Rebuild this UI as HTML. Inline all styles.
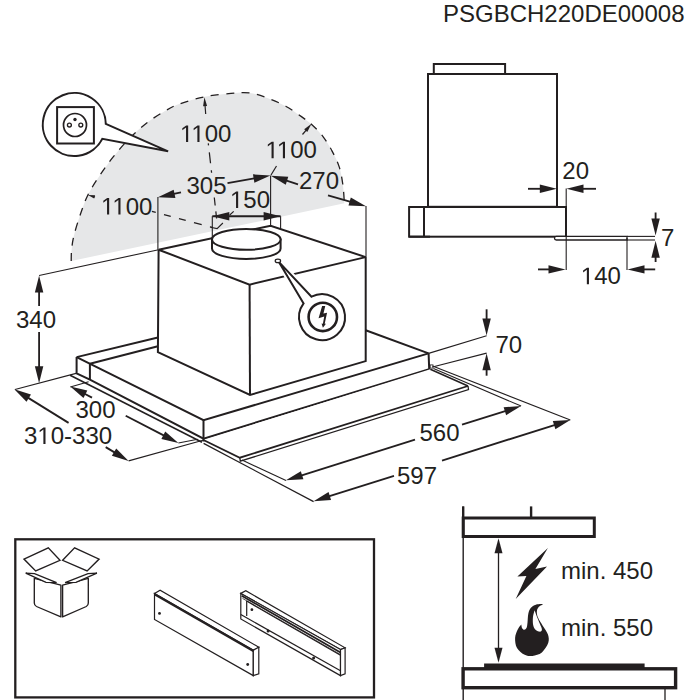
<!DOCTYPE html>
<html><head><meta charset="utf-8"><style>
html,body{margin:0;padding:0;background:#fff;}
svg{display:block;}
text{font-family:"Liberation Sans",sans-serif;fill:#231f20;}
</style></head><body>
<svg width="700" height="700" viewBox="0 0 700 700">
<path d="M 71.20 261.00 C 71.27 259.17 71.15 254.22 71.60 250.00 C 72.05 245.78 72.43 241.65 73.90 235.70 C 75.37 229.75 78.07 221.08 80.40 214.30 C 82.73 207.52 84.70 201.43 87.90 195.00 C 91.10 188.57 95.32 182.13 99.60 175.70 C 103.88 169.27 108.42 162.83 113.60 156.40 C 118.78 149.97 124.98 142.82 130.70 137.10 C 136.42 131.38 142.18 126.45 147.90 122.10 C 153.62 117.75 159.88 113.97 165.00 111.00 C 170.12 108.03 172.02 106.67 178.60 104.30 C 185.18 101.93 195.77 98.62 204.50 96.80 C 213.23 94.98 223.42 94.03 231.00 93.40 C 238.58 92.77 243.85 92.20 250.00 93.00 C 256.15 93.80 261.95 96.00 267.90 98.20 C 273.85 100.40 280.05 103.08 285.70 106.20 C 291.35 109.32 297.33 113.73 301.80 116.90 C 306.27 120.07 308.93 121.88 312.50 125.20 C 316.07 128.52 319.93 132.48 323.20 136.80 C 326.47 141.12 329.42 146.05 332.10 151.10 C 334.78 156.15 337.50 161.45 339.30 167.10 C 341.10 172.75 342.05 178.97 342.90 185.00 C 343.75 191.03 344.15 200.25 344.40 203.30  L 71.2 261.0 Z" fill="#e6e7e8" stroke="none"/>
<path d="M 71.20 261.00 C 71.27 259.17 71.15 254.22 71.60 250.00 C 72.05 245.78 72.43 241.65 73.90 235.70 C 75.37 229.75 78.07 221.08 80.40 214.30 C 82.73 207.52 84.70 201.43 87.90 195.00 C 91.10 188.57 95.32 182.13 99.60 175.70 C 103.88 169.27 108.42 162.83 113.60 156.40 C 118.78 149.97 124.98 142.82 130.70 137.10 C 136.42 131.38 142.18 126.45 147.90 122.10 C 153.62 117.75 159.88 113.97 165.00 111.00 C 170.12 108.03 172.02 106.67 178.60 104.30 C 185.18 101.93 195.77 98.62 204.50 96.80 C 213.23 94.98 223.42 94.03 231.00 93.40 C 238.58 92.77 243.85 92.20 250.00 93.00 C 256.15 93.80 261.95 96.00 267.90 98.20 C 273.85 100.40 280.05 103.08 285.70 106.20 C 291.35 109.32 297.33 113.73 301.80 116.90 C 306.27 120.07 308.93 121.88 312.50 125.20 C 316.07 128.52 319.93 132.48 323.20 136.80 C 326.47 141.12 329.42 146.05 332.10 151.10 C 334.78 156.15 337.50 161.45 339.30 167.10 C 341.10 172.75 342.05 178.97 342.90 185.00 C 343.75 191.03 344.15 200.25 344.40 203.30 " fill="none" stroke="#231f20" stroke-width="1.3" stroke-dasharray="8 7.5"/>
<text x="443.00 459.01 475.02 493.68 509.69 527.02 544.36 557.70 571.05 584.40 601.73 617.74 631.09 644.43 657.78 671.13" y="22" font-size="24">PSGBCH220DE00008</text>
<line x1="208.30" y1="143.40" x2="211.90" y2="175.50" stroke="#231f20" stroke-width="1.25" stroke-dasharray="2 7 11 7 2.5 40"/>
<line x1="214.30" y1="197.50" x2="216.60" y2="218.50" stroke="#231f20" stroke-width="1.25" stroke-dasharray="8 6"/>
<line x1="205.70" y1="114.00" x2="204.94" y2="104.18" stroke="#231f20" stroke-width="1.2" />
<polygon points="204.40,97.20 207.09,106.02 203.10,106.33" fill="#231f20" stroke="none" stroke-width="0" />
<polygon points="186.04,142.00 186.04,127.50 182.31,130.16 182.31,128.17 186.21,125.49 188.16,125.49 188.16,142.00" fill="#231f20"/>
<polygon points="197.38,142.00 197.38,127.50 193.66,130.16 193.66,128.17 197.56,125.49 199.50,125.49 199.50,142.00" fill="#231f20"/>
<text x="204.70 218.04" y="142" font-size="24">00</text>
<line x1="151.90" y1="211.40" x2="212.40" y2="227.40" stroke="#231f20" stroke-width="1.25" stroke-dasharray="4 8.5 7 8.5 7 8.5 8 8.5"/>
<line x1="95.00" y1="197.00" x2="92.71" y2="196.36" stroke="#231f20" stroke-width="1.2" />
<polygon points="87.90,195.00 95.11,195.21 94.16,198.58" fill="#231f20" stroke="none" stroke-width="0" />
<polygon points="107.04,214.50 107.04,200.00 103.31,202.66 103.31,200.67 107.21,197.99 109.16,197.99 109.16,214.50" fill="#231f20"/>
<polygon points="118.38,214.50 118.38,200.00 114.66,202.66 114.66,200.67 118.56,197.99 120.50,197.99 120.50,214.50" fill="#231f20"/>
<text x="125.70 139.04" y="214.5" font-size="24">00</text>
<line x1="271.00" y1="175.00" x2="276.50" y2="166.00" stroke="#231f20" stroke-width="1.2" />
<line x1="302.50" y1="134.50" x2="307.02" y2="129.08" stroke="#231f20" stroke-width="1.2" />
<polygon points="311.50,123.70 307.27,131.89 304.20,129.33" fill="#231f20" stroke="none" stroke-width="0" />
<polygon points="271.54,158.30 271.54,143.80 267.81,146.46 267.81,144.47 271.71,141.79 273.66,141.79 273.66,158.30" fill="#231f20"/>
<polygon points="282.88,158.30 282.88,143.80 279.16,146.46 279.16,144.47 283.06,141.79 285.00,141.79 285.00,158.30" fill="#231f20"/>
<text x="290.20 303.54" y="158.3" font-size="24">00</text>
<line x1="157.90" y1="197.00" x2="157.90" y2="249.70" stroke="#231f20" stroke-width="1.1" />
<line x1="270.60" y1="175.50" x2="270.60" y2="225.70" stroke="#231f20" stroke-width="1.1" />
<line x1="366.00" y1="206.00" x2="366.00" y2="257.10" stroke="#231f20" stroke-width="1.1" />
<line x1="181.00" y1="192.40" x2="172.57" y2="194.19" stroke="#231f20" stroke-width="1.85" />
<polygon points="157.90,197.30 173.66,189.66 175.40,197.88" fill="#231f20" stroke="none" stroke-width="0" />
<line x1="227.50" y1="183.20" x2="255.64" y2="178.15" stroke="#231f20" stroke-width="1.85" />
<polygon points="270.40,175.50 254.41,182.64 252.93,174.37" fill="#231f20" stroke="none" stroke-width="0" />
<text x="186.50 199.85 213.20" y="194" font-size="24">305</text>
<line x1="298.00" y1="184.30" x2="285.10" y2="180.22" stroke="#231f20" stroke-width="1.85" />
<polygon points="270.80,175.70 288.28,176.82 285.74,184.83" fill="#231f20" stroke="none" stroke-width="0" />
<line x1="328.00" y1="195.30" x2="351.58" y2="202.06" stroke="#231f20" stroke-width="1.85" />
<polygon points="366.00,206.20 348.50,205.55 350.82,197.48" fill="#231f20" stroke="none" stroke-width="0" />
<text x="299.00 312.35 325.70" y="188.5" font-size="24">270</text>
<line x1="212.30" y1="216.20" x2="280.60" y2="216.20" stroke="#231f20" stroke-width="1.85" />
<polygon points="212.30,216.20 229.30,212.00 229.30,220.40" fill="#231f20" stroke="none" stroke-width="0" />
<polygon points="280.60,216.20 263.60,220.40 263.60,212.00" fill="#231f20" stroke="none" stroke-width="0" />
<line x1="212.30" y1="216.20" x2="212.30" y2="240.00" stroke="#231f20" stroke-width="1.1" />
<line x1="280.60" y1="216.20" x2="280.60" y2="248.00" stroke="#231f20" stroke-width="1.1" />
<polygon points="236.04,208.00 236.04,193.50 232.31,196.16 232.31,194.17 236.21,191.49 238.16,191.49 238.16,208.00" fill="#231f20"/>
<text x="243.35 256.70" y="208" font-size="24">50</text>
<path d="M 105.80 123.95 L 168.1 151.3 L 102.37 138.80 A 31.5 31.5 0 1 1 105.80 123.95 Z" fill="#fff" stroke="#231f20" stroke-width="2" stroke-linejoin="miter"/>
<rect x="57.1" y="107.1" width="36.8" height="36.4" fill="none" stroke="#231f20" stroke-width="2"/>
<circle cx="75" cy="125" r="11.5" fill="none" stroke="#231f20" stroke-width="1.7"/>
<circle cx="75" cy="119.5" r="1.7" fill="#231f20"/>
<circle cx="69.4" cy="125" r="1.95" fill="none" stroke="#231f20" stroke-width="1.35"/>
<circle cx="80.8" cy="125" r="1.95" fill="none" stroke="#231f20" stroke-width="1.35"/>
<line x1="39.10" y1="275.50" x2="158.60" y2="249.70" stroke="#231f20" stroke-width="1.1" />
<line x1="15.00" y1="389.50" x2="77.00" y2="373.10" stroke="#231f20" stroke-width="1.1" />
<line x1="39.10" y1="280.00" x2="39.10" y2="378.00" stroke="#231f20" stroke-width="1.85" />
<polygon points="39.10,275.60 43.30,292.60 34.90,292.60" fill="#231f20" stroke="none" stroke-width="0" />
<polygon points="39.10,383.20 34.90,366.20 43.30,366.20" fill="#231f20" stroke="none" stroke-width="0" />
<rect x="16" y="306" width="40" height="26" fill="#fff"/>
<text x="16.00 29.35 42.70" y="328" font-size="24">340</text>
<polygon points="76.60,357.10 157.90,337.50 157.90,352.10 250.00,395.00 365.70,361.10 365.70,330.30 428.60,353.40 429.20,369.20 203.50,438.60 89.90,379.60 76.60,373.40" fill="#fff" stroke="none" stroke-width="0" />
<line x1="76.60" y1="357.10" x2="157.90" y2="337.50" stroke="#231f20" stroke-width="2.0" />
<line x1="89.90" y1="363.80" x2="157.90" y2="346.30" stroke="#231f20" stroke-width="2.0" />
<polyline points="76.60,357.10 203.50,420.20 428.60,353.40" fill="none" stroke="#231f20" stroke-width="2.0" stroke-linejoin="miter" />
<line x1="365.70" y1="330.30" x2="428.60" y2="353.40" stroke="#231f20" stroke-width="2.0" />
<polyline points="76.60,357.10 76.60,373.40 89.90,379.60 203.50,438.60 429.20,369.20 428.60,353.40" fill="none" stroke="#231f20" stroke-width="2.0" stroke-linejoin="miter" />
<line x1="89.90" y1="363.80" x2="89.90" y2="379.60" stroke="#231f20" stroke-width="2.0" />
<line x1="203.50" y1="420.20" x2="203.50" y2="438.60" stroke="#231f20" stroke-width="2.0" />
<line x1="70.10" y1="375.20" x2="202.00" y2="442.20" stroke="#231f20" stroke-width="1.6" />
<polygon points="204.00,440.00 240.00,458.00 468.00,386.00 430.30,369.20" fill="#fff" stroke="none" stroke-width="0" />
<polyline points="204.00,440.30 239.80,457.70 468.00,386.00" fill="none" stroke="#231f20" stroke-width="1.8" stroke-linejoin="miter" />
<polyline points="239.80,457.70 240.30,461.20 468.50,389.50 468.00,386.00" fill="none" stroke="#231f20" stroke-width="1.3" stroke-linejoin="miter" />
<line x1="203.50" y1="438.00" x2="203.50" y2="441.50" stroke="#231f20" stroke-width="2.0" />
<line x1="430.30" y1="369.20" x2="468.00" y2="386.00" stroke="#231f20" stroke-width="1.6" />
<rect x="430.2" y="364.9" width="2.8" height="3.2" fill="#fff" stroke="#231f20" stroke-width="0.8"/>
<polygon points="158.60,249.70 270.60,225.70 365.70,257.10 365.70,361.10 250.00,395.00 157.90,352.10" fill="#fff" stroke="none" stroke-width="0" />
<polyline points="158.60,249.70 249.60,284.60 365.70,257.10" fill="none" stroke="#231f20" stroke-width="2.0" stroke-linejoin="miter" />
<polyline points="158.60,249.70 270.60,225.70 365.70,257.10" fill="none" stroke="#231f20" stroke-width="2.0" stroke-linejoin="miter" />
<polyline points="158.60,249.70 157.90,352.10 250.00,395.00 365.70,361.10 365.70,257.10" fill="none" stroke="#231f20" stroke-width="2.0" stroke-linejoin="miter" />
<line x1="249.60" y1="284.60" x2="250.00" y2="395.00" stroke="#231f20" stroke-width="2.0" />
<path d="M 212.0 239.4 L 212.0 248.5 A 34.3 10.4 0 0 0 280.6 248.5 L 280.6 239.4 Z" fill="#fff" stroke="#231f20" stroke-width="2.0"/>
<ellipse cx="246.3" cy="239.4" rx="34.3" ry="10.4" fill="#fff" stroke="#231f20" stroke-width="2.0"/>
<path d="M 303.6 303.4 L 278.6 261.6 L 311.5 296.7" fill="none" stroke="#fff" stroke-width="6"/>
<path d="M 303.6 303.4 L 278.6 261.6 L 311.5 296.7 A 23.0 23.0 0 1 1 303.6 303.4 Z" fill="#fff" stroke="#231f20" stroke-width="2" stroke-linejoin="miter"/>
<ellipse cx="277.9" cy="260.9" rx="2.7" ry="1.7" fill="#fff" stroke="#231f20" stroke-width="1.2"/>
<circle cx="322.8" cy="316.9" r="14.2" fill="none" stroke="#231f20" stroke-width="2.6"/>
<polygon points="322.11,306.11 325.25,306.11 323.44,313.41 327.06,312.79 324.70,323.63 325.96,323.63 322.89,327.72 321.56,323.39 322.89,323.63 324.23,316.56 318.57,318.13" fill="#231f20" stroke="none" stroke-width="0" />
<line x1="70.30" y1="387.00" x2="88.60" y2="381.70" stroke="#231f20" stroke-width="1.1" />
<line x1="92.00" y1="397.60" x2="83.63" y2="393.28" stroke="#231f20" stroke-width="1.85" />
<polygon points="70.30,386.40 87.33,390.46 83.48,397.93" fill="#231f20" stroke="none" stroke-width="0" />
<line x1="125.70" y1="415.70" x2="165.08" y2="436.10" stroke="#231f20" stroke-width="1.85" />
<polygon points="178.40,443.00 161.37,438.91 165.24,431.45" fill="#231f20" stroke="none" stroke-width="0" />
<line x1="178.40" y1="443.00" x2="197.70" y2="439.20" stroke="#231f20" stroke-width="1.1" />
<text x="75.50 88.85 102.20" y="418" font-size="24">300</text>
<line x1="68.60" y1="422.90" x2="27.04" y2="397.11" stroke="#231f20" stroke-width="1.85" />
<polygon points="14.30,389.20 30.96,394.60 26.53,401.73" fill="#231f20" stroke="none" stroke-width="0" />
<line x1="105.70" y1="447.10" x2="115.75" y2="453.16" stroke="#231f20" stroke-width="1.85" />
<polygon points="128.60,460.90 111.87,455.72 116.21,448.53" fill="#231f20" stroke="none" stroke-width="0" />
<line x1="128.60" y1="460.90" x2="203.00" y2="440.20" stroke="#231f20" stroke-width="1.1" />
<polygon points="43.38,444.00 43.38,429.50 39.66,432.16 39.66,430.17 43.56,427.49 45.50,427.49 45.50,444.00" fill="#231f20"/>
<text x="24.00 50.70 64.04 72.04 85.38 98.73" y="444" font-size="24">30-330</text>
<line x1="242.00" y1="460.00" x2="286.00" y2="480.60" stroke="#231f20" stroke-width="1.1" />
<line x1="203.60" y1="443.40" x2="313.60" y2="501.60" stroke="#231f20" stroke-width="1.2" />
<line x1="433.50" y1="368.50" x2="521.10" y2="406.10" stroke="#231f20" stroke-width="1.1" />
<line x1="432.50" y1="366.00" x2="570.30" y2="420.00" stroke="#231f20" stroke-width="1.1" />
<line x1="415.00" y1="439.60" x2="300.21" y2="475.79" stroke="#231f20" stroke-width="1.85" />
<polygon points="285.90,480.30 300.85,471.18 303.38,479.19" fill="#231f20" stroke="none" stroke-width="0" />
<line x1="462.00" y1="424.70" x2="506.79" y2="410.60" stroke="#231f20" stroke-width="1.85" />
<polygon points="521.10,406.10 506.14,415.21 503.62,407.20" fill="#231f20" stroke="none" stroke-width="0" />
<text x="419.50 432.85 446.20" y="440.5" font-size="24">560</text>
<line x1="394.00" y1="475.80" x2="327.90" y2="496.68" stroke="#231f20" stroke-width="1.85" />
<polygon points="313.60,501.20 328.55,492.07 331.08,500.08" fill="#231f20" stroke="none" stroke-width="0" />
<line x1="442.00" y1="460.60" x2="556.00" y2="424.53" stroke="#231f20" stroke-width="1.85" />
<polygon points="570.30,420.00 555.36,429.13 552.83,421.12" fill="#231f20" stroke="none" stroke-width="0" />
<text x="397.00 410.35 423.70" y="484" font-size="24">597</text>
<line x1="428.60" y1="353.40" x2="486.60" y2="335.80" stroke="#231f20" stroke-width="1.1" />
<line x1="432.50" y1="367.00" x2="486.60" y2="353.10" stroke="#231f20" stroke-width="1.1" />
<line x1="486.60" y1="309.30" x2="486.60" y2="320.40" stroke="#231f20" stroke-width="1.85" />
<polygon points="486.60,335.40 482.40,318.40 490.80,318.40" fill="#231f20" stroke="none" stroke-width="0" />
<line x1="486.60" y1="375.70" x2="486.60" y2="368.30" stroke="#231f20" stroke-width="1.85" />
<polygon points="486.60,353.30 490.80,370.30 482.40,370.30" fill="#231f20" stroke="none" stroke-width="0" />
<text x="495.50 508.85" y="352.5" font-size="24">70</text>
<rect x="433.8" y="64" width="71.3" height="10" fill="#fff" stroke="#231f20" stroke-width="2.0"/>
<rect x="428" y="74" width="129" height="132.8" fill="#fff" stroke="#231f20" stroke-width="2.0"/>
<rect x="409.1" y="207" width="156.9" height="29.7" fill="#fff" stroke="#231f20" stroke-width="2.0"/>
<line x1="424.00" y1="207.00" x2="424.00" y2="236.70" stroke="#231f20" stroke-width="2.0" />
<line x1="409.10" y1="236.70" x2="430.00" y2="236.70" stroke="#231f20" stroke-width="2.0" />
<path d="M 556.3 236.4 L 627 236.4 L 627 240.0 L 556.3 240.0 A 1.8 1.8 0 0 1 556.3 236.4 Z" fill="#fff" stroke="#231f20" stroke-width="1.3"/>
<line x1="566.20" y1="188.50" x2="566.20" y2="270.00" stroke="#231f20" stroke-width="1.1" />
<line x1="627.00" y1="238.00" x2="627.00" y2="270.00" stroke="#231f20" stroke-width="1.1" />
<line x1="627.00" y1="236.40" x2="655.00" y2="236.40" stroke="#231f20" stroke-width="1.1" />
<line x1="627.00" y1="240.00" x2="655.00" y2="240.00" stroke="#231f20" stroke-width="1.1" />
<line x1="528.00" y1="188.80" x2="541.80" y2="188.80" stroke="#231f20" stroke-width="1.85" />
<polygon points="556.80,188.80 539.80,193.00 539.80,184.60" fill="#231f20" stroke="none" stroke-width="0" />
<line x1="596.00" y1="188.80" x2="581.50" y2="188.80" stroke="#231f20" stroke-width="1.85" />
<polygon points="566.50,188.80 583.50,184.60 583.50,193.00" fill="#231f20" stroke="none" stroke-width="0" />
<text x="562.30 575.65" y="178.5" font-size="24">20</text>
<line x1="538.00" y1="269.40" x2="550.50" y2="269.40" stroke="#231f20" stroke-width="1.85" />
<polygon points="565.50,269.40 548.50,273.60 548.50,265.20" fill="#231f20" stroke="none" stroke-width="0" />
<line x1="655.20" y1="269.40" x2="642.50" y2="269.40" stroke="#231f20" stroke-width="1.85" />
<polygon points="627.50,269.40 644.50,265.20 644.50,273.60" fill="#231f20" stroke="none" stroke-width="0" />
<polygon points="586.84,284.30 586.84,269.80 583.11,272.46 583.11,270.47 587.01,267.79 588.96,267.79 588.96,284.30" fill="#231f20"/>
<text x="594.15 607.50" y="284.3" font-size="24">40</text>
<line x1="655.60" y1="212.50" x2="655.60" y2="220.60" stroke="#231f20" stroke-width="1.85" />
<polygon points="655.60,235.60 651.40,218.60 659.80,218.60" fill="#231f20" stroke="none" stroke-width="0" />
<line x1="655.60" y1="262.00" x2="655.60" y2="255.80" stroke="#231f20" stroke-width="1.85" />
<polygon points="655.60,240.80 659.80,257.80 651.40,257.80" fill="#231f20" stroke="none" stroke-width="0" />
<text x="661.00" y="246" font-size="24">7</text>
<rect x="15.3" y="539.3" width="358.7" height="158.1" fill="none" stroke="#231f20" stroke-width="2.3"/>
<polygon points="24.00,559.10 48.30,547.80 60.00,560.30 35.70,570.90" fill="#fff" stroke="#231f20" stroke-width="1.35" />
<polygon points="62.60,560.30 74.60,547.80 99.10,559.10 87.10,570.90" fill="#fff" stroke="#231f20" stroke-width="1.35" />
<path d="M 34.3 578.3 L 34.3 603 Q 34.3 605.5 36.5 606.5 L 60.9 616.9 L 60.9 585.1 Z" fill="#fff" stroke="#231f20" stroke-width="1.35" stroke-linejoin="round"/>
<path d="M 62.6 585.1 L 62.6 616.9 L 86.3 606.5 Q 88.3 605.5 88.3 603 L 88.3 578.3 Z" fill="#fff" stroke="#231f20" stroke-width="1.35" stroke-linejoin="round"/>
<polygon points="25.70,573.10 34.50,573.60 56.60,582.60 46.00,582.30" fill="#fff" stroke="#231f20" stroke-width="1.35" />
<polygon points="96.90,573.10 88.00,573.60 65.10,582.60 76.00,582.30" fill="#fff" stroke="#231f20" stroke-width="1.35" />
<polygon points="154.50,593.40 160.10,590.20 258.80,647.20 253.30,650.20" fill="#fff" stroke="#231f20" stroke-width="1.2" />
<polygon points="154.50,593.40 253.30,650.20 253.30,675.60 154.50,619.40" fill="#fff" stroke="#231f20" stroke-width="1.2" />
<polygon points="253.30,650.20 258.80,647.20 258.80,673.80 253.30,675.60" fill="#fff" stroke="#231f20" stroke-width="1.2" />
<line x1="154.90" y1="594.70" x2="253.30" y2="651.30" stroke="#231f20" stroke-width="1.7" />
<circle cx="159.5" cy="613.4" r="1.4" fill="#231f20"/>
<circle cx="247.7" cy="664.5" r="1.4" fill="#231f20"/>
<polygon points="240.80,593.40 245.80,590.80 345.10,647.80 340.50,649.60" fill="#fff" stroke="#231f20" stroke-width="1.2" />
<polygon points="240.80,593.40 340.50,649.60 340.50,675.60 240.80,619.00" fill="#fff" stroke="#231f20" stroke-width="1.2" />
<polygon points="340.50,649.60 345.10,647.80 345.10,673.80 340.50,675.60" fill="#fff" stroke="#231f20" stroke-width="1.2" />
<line x1="241.70" y1="595.80" x2="340.50" y2="652.40" stroke="#231f20" stroke-width="1.7" />
<line x1="242.50" y1="598.40" x2="340.50" y2="654.60" stroke="#231f20" stroke-width="0.8" />
<line x1="246.70" y1="601.10" x2="340.50" y2="655.30" stroke="#231f20" stroke-width="1.2" />
<line x1="246.70" y1="601.10" x2="246.70" y2="615.90" stroke="#231f20" stroke-width="1.2" />
<line x1="240.80" y1="614.60" x2="340.50" y2="670.80" stroke="#231f20" stroke-width="1.2" />
<circle cx="251.9" cy="609.7" r="1.4" fill="#231f20"/>
<circle cx="268.1" cy="631.1" r="1.5" fill="#231f20"/>
<circle cx="313.6" cy="658" r="1.5" fill="#231f20"/>
<line x1="463.20" y1="506.40" x2="463.20" y2="700.00" stroke="#231f20" stroke-width="1.4" />
<line x1="463.20" y1="506.40" x2="463.20" y2="537.00" stroke="#231f20" stroke-width="2.4" />
<line x1="531.10" y1="506.40" x2="531.10" y2="518.00" stroke="#231f20" stroke-width="2.4" />
<rect x="463.2" y="518" width="131.1" height="18.5" fill="none" stroke="#231f20" stroke-width="3"/>
<line x1="498.50" y1="545.00" x2="498.50" y2="655.00" stroke="#231f20" stroke-width="1.3" />
<polygon points="498.50,538.30 502.50,553.30 494.50,553.30" fill="#231f20" stroke="none" stroke-width="0" />
<polygon points="498.50,662.80 494.50,647.80 502.50,647.80" fill="#231f20" stroke="none" stroke-width="0" />
<polygon points="547.90,548.10 517.40,576.40 526.40,576.00 515.70,599.10 547.00,566.60 535.40,569.10" fill="#231f20" stroke="none" stroke-width="0" />
<path d="M 521.29 624.43 C 520.71 625.21 518.89 626.93 517.86 629.14 C 516.83 631.36 515.26 634.57 515.11 637.71 C 514.97 640.86 515.40 645.14 517.00 648.00 C 518.60 650.86 522.14 653.54 524.71 654.86 C 527.29 656.17 529.57 656.28 532.43 655.88 C 535.28 655.48 539.21 654.63 541.86 652.46 C 544.50 650.28 547.28 645.88 548.28 642.86 C 549.28 639.83 548.78 637.14 547.86 634.28 C 546.93 631.43 544.36 628.50 542.71 625.71 C 541.07 622.93 538.97 620.00 538.00 617.57 C 537.03 615.14 536.74 612.93 536.88 611.14 C 537.03 609.36 537.88 608.00 538.86 606.86 C 539.83 605.71 543.21 604.64 542.71 604.29 C 542.21 603.93 537.86 604.11 535.86 604.71 C 533.86 605.31 531.97 606.39 530.71 607.89 C 529.46 609.39 528.84 611.31 528.31 613.71 C 527.79 616.11 527.83 619.93 527.54 622.29 C 527.26 624.64 527.14 626.60 526.60 627.86 C 526.06 629.11 525.03 629.76 524.29 629.83 C 523.54 629.90 522.64 629.18 522.14 628.28 C 521.64 627.38 521.43 625.07 521.29 624.43  Z" fill="#231f20"/>
<path d="M 534.57 610.29 C 534.30 611.43 533.18 614.71 532.94 617.14 C 532.70 619.57 532.77 622.86 533.11 624.86 C 533.46 626.86 534.04 628.03 535.00 629.14 C 535.96 630.26 537.78 631.23 538.86 631.54 C 539.93 631.86 540.96 631.57 541.43 631.03 C 541.90 630.48 542.04 629.71 541.68 628.28 C 541.33 626.86 540.11 624.46 539.28 622.46 C 538.46 620.46 537.50 618.31 536.71 616.29 C 535.93 614.26 534.93 611.29 534.57 610.29  Z" fill="#fff"/>
<text x="561.00 580.99 586.32 599.67 613.01 626.36 639.70" y="578.5" font-size="24">min.450</text>
<text x="561.00 580.99 586.32 599.67 613.01 626.36 639.70" y="635.5" font-size="24">min.550</text>
<rect x="484.1" y="663.5" width="160.5" height="5" fill="#231f20"/>
<rect x="463.1" y="668.8" width="212.5" height="18.9" fill="#fff" stroke="#231f20" stroke-width="3.4"/>
<line x1="665.00" y1="689.00" x2="665.00" y2="700.00" stroke="#231f20" stroke-width="1.3" />
<polyline points="210.30,227.30 217.10,228.60 222.90,223.00" fill="none" stroke="#231f20" stroke-width="1.1" stroke-linejoin="miter" />
<line x1="229.70" y1="215.00" x2="233.70" y2="211.30" stroke="#231f20" stroke-width="1.1" />
</svg>
</body></html>
